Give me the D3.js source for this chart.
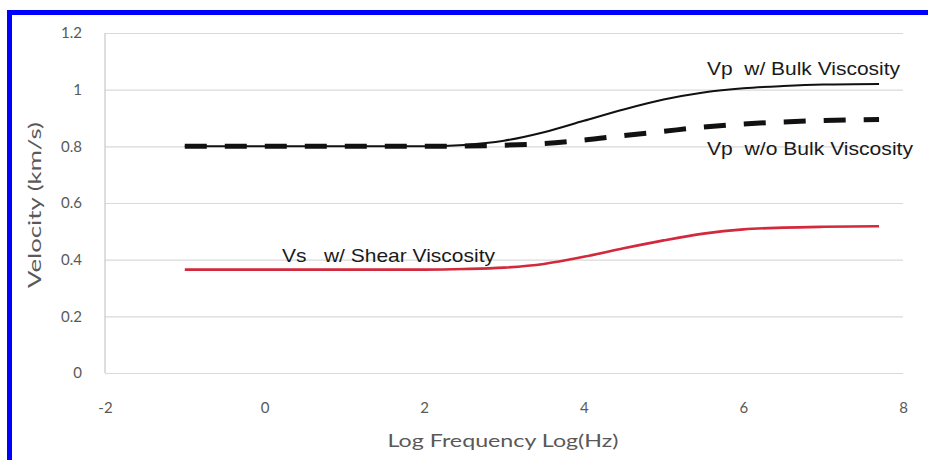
<!DOCTYPE html>
<html>
<head>
<meta charset="utf-8">
<script src="https://cdn.jsdelivr.net/npm/d3@7"></script>
<style>
  html, body { margin: 0; padding: 0; background: #fff; }
  svg { display: block; }
  .ann { white-space: pre; }
</style>
</head>
<body>
<svg id="chart" width="928" height="460"></svg>
<script>
// Log frequency samples (log10 Hz)
const logFreq = [-1, 0, 1, 2, 2.5, 3, 3.5, 4, 4.5, 5, 5.5, 6, 6.5, 7, 7.7];

// Velocities (km/s)
const vpBulk   = [0.80, 0.80, 0.80, 0.80, 0.805, 0.82, 0.85, 0.89, 0.93, 0.965, 0.99, 1.005, 1.013, 1.018, 1.02];
const vpNoBulk = [0.80, 0.80, 0.80, 0.80, 0.801, 0.804, 0.81, 0.822, 0.838, 0.853, 0.868, 0.879, 0.886, 0.891, 0.895];
const vsShear  = [0.365, 0.365, 0.365, 0.365, 0.367, 0.372, 0.385, 0.41, 0.44, 0.468, 0.492, 0.507, 0.513, 0.516, 0.518];

const xTicks = [-2, 0, 2, 4, 6, 8];
const yTicks = [0, 0.2, 0.4, 0.6, 0.8, 1, 1.2];

const labelBulk   = "Vp  w/ Bulk Viscosity";
const labelNoBulk = "Vp  w/o Bulk Viscosity";
const labelShear  = "Vs   w/ Shear Viscosity";
const xTitle = "Log Frequency Log(Hz)";
const yTitle = "Velocity (km/s)";

const svg = d3.select("#chart");

const x = d3.scaleLinear().domain([-2, 8]).range([105, 903]);
const y = d3.scaleLinear().domain([0, 1.2]).range([373, 33]);

// frame strokes along the top and left edges
svg.append("rect").attr("x", 7).attr("y", 10).attr("width", 921).attr("height", 5).attr("fill", "#0000ff");
svg.append("rect").attr("x", 7).attr("y", 10).attr("width", 5).attr("height", 450).attr("fill", "#0000ff");

// horizontal gridlines
const grid = svg.append("g")
  .attr("transform", `translate(${x.range()[0]},0)`)
  .call(d3.axisLeft(y).tickValues(yTicks).tickSize(-(x.range()[1] - x.range()[0])).tickFormat(""));
grid.select(".domain").remove();
grid.selectAll(".tick line").attr("stroke", "#d9d9d9").attr("stroke-width", 1.2);

// vertical axis line
svg.append("line")
  .attr("x1", x(-2)).attr("x2", x(-2))
  .attr("y1", y(1.2)).attr("y2", y(0))
  .attr("stroke", "#c8c8c8").attr("stroke-width", 1.2);

const tickFont = "Lato, 'Open Sans', sans-serif";

// y axis labels
const yAxis = svg.append("g")
  .attr("transform", `translate(${x.range()[0]},0)`)
  .call(d3.axisLeft(y).tickValues(yTicks).tickSize(0).tickPadding(23).tickFormat(d => String(d)));
yAxis.select(".domain").remove();
yAxis.selectAll("text").attr("font-family", tickFont).attr("font-size", 15).attr("fill", "#595959");

// x axis labels
const xAxis = svg.append("g")
  .attr("transform", `translate(0,${y(0)})`)
  .call(d3.axisBottom(x).tickValues(xTicks).tickSize(0).tickPadding(29).tickFormat(d => String(d)));
xAxis.select(".domain").remove();
xAxis.selectAll("text").attr("font-family", tickFont).attr("font-size", 15).attr("fill", "#595959");

// axis titles
svg.append("text")
  .attr("x", 503).attr("y", 447)
  .attr("text-anchor", "middle")
  .attr("font-family", tickFont).attr("font-size", 18).attr("fill", "#595959")
  .attr("textLength", 231).attr("lengthAdjust", "spacingAndGlyphs")
  .text(xTitle);

svg.append("text")
  .attr("transform", "translate(41,205) rotate(-90)")
  .attr("text-anchor", "middle")
  .attr("font-family", tickFont).attr("font-size", 18).attr("fill", "#595959")
  .attr("textLength", 166).attr("lengthAdjust", "spacingAndGlyphs")
  .text(yTitle);

// curves
const line = vals => d3.line()
  .x((d, i) => x(logFreq[i]))
  .y(d => y(d))
  .curve(d3.curveMonotoneX)(vals);

svg.append("path")
  .attr("d", line(vsShear))
  .attr("fill", "none").attr("stroke", "#d2293c").attr("stroke-width", 2.6);

svg.append("path")
  .attr("d", line(vpBulk))
  .attr("fill", "none").attr("stroke", "#111").attr("stroke-width", 2);

svg.append("path")
  .attr("d", line(vpNoBulk))
  .attr("fill", "none").attr("stroke", "#111").attr("stroke-width", 5)
  .attr("stroke-dasharray", "22 18");

// curve annotations
const annFont = "'Liberation Sans', Arial, sans-serif";
const annotate = (txt, xPos, yPos, len) => svg.append("text")
  .attr("class", "ann")
  .attr("xml:space", "preserve")
  .attr("x", xPos).attr("y", yPos)
  .attr("font-family", annFont).attr("font-size", 19).attr("fill", "#1a1a1a")
  .attr("textLength", len).attr("lengthAdjust", "spacingAndGlyphs")
  .text(txt);

annotate(labelBulk, 707, 75, 193);
annotate(labelNoBulk, 707, 155, 206);
annotate(labelShear, 282, 262, 213);
</script>
</body>
</html>
